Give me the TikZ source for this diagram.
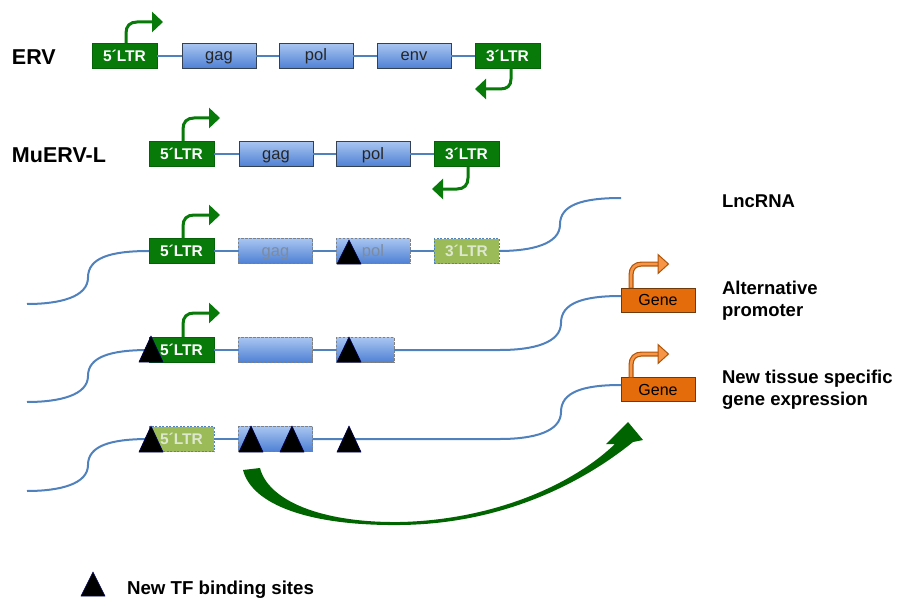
\documentclass[tikz,border=0pt]{standalone}
\usepackage{fontspec}
\setmainfont{Liberation Sans}
\usetikzlibrary{arrows.meta,calc}
\definecolor{ltrgreen}{RGB}{8,122,10}
\definecolor{ltrlight}{RGB}{155,187,89}
\definecolor{ltrtext}{RGB}{222,232,206}
\definecolor{bluetop}{RGB}{168,197,240}
\definecolor{bluebot}{RGB}{78,128,212}
\definecolor{boxedge}{RGB}{52,64,84}
\definecolor{dnablue}{RGB}{79,129,189}
\definecolor{genefill}{RGB}{228,108,10}
\definecolor{geneedge}{RGB}{110,58,12}
\definecolor{orlight}{RGB}{247,150,70}
\definecolor{ordark}{RGB}{175,85,10}
\definecolor{arrowgreen}{RGB}{0,100,0}
\definecolor{ghosttext}{RGB}{125,140,160}
\begin{document}
\begin{tikzpicture}[x=1pt,y=-1pt,
  every node/.style={inner sep=0pt,outer sep=0pt},
  ltr/.style={fill=ltrgreen,draw=ltrgreen!80!black,line width=0.6pt,minimum width=65pt,minimum height=25pt,text=white,text height=11pt,text depth=0pt,font=\fontsize{15.5}{18}\selectfont\bfseries},
  ltrghost/.style={fill=ltrlight,draw=dnablue,dash pattern=on 2pt off 1.5pt,line width=0.7pt,minimum width=65pt,minimum height=25pt,text=ltrtext,text height=11pt,text depth=0pt,font=\fontsize{15.5}{18}\selectfont\bfseries},
  orf/.style={top color=bluetop,bottom color=bluebot,draw=boxedge,line width=0.8pt,minimum width=74pt,minimum height=25pt,text height=10pt,text depth=0pt,font=\fontsize{16.5}{19}\selectfont,text=black!85},
  orfghost/.style={orf,draw=gray,dash pattern=on 2.5pt off 1.5pt,line width=1pt,text=ghosttext},
  gene/.style={fill=genefill,draw=geneedge,line width=0.8pt,minimum width=74pt,minimum height=24pt,text height=11pt,text depth=0pt,font=\fontsize{16}{19}\selectfont},
  dna/.style={draw=dnablue,line width=2pt},
  promo/.style={draw=ltrgreen,line width=3pt,-{Triangle[length=11pt,width=20pt]}},
  genearrowout/.style={draw=ordark,line width=5pt},
  genearrowin/.style={draw=orlight,line width=2.6pt},
  genehead/.style={fill=orlight,draw=ordark,line width=1pt,line join=miter},
  tf/.style={fill=black,draw=blue!35!black,line width=0.6pt,line join=round},
  lab/.style={anchor=west,font=\fontsize{21.5}{25}\selectfont\bfseries},
  rlab/.style={anchor=west,align=left,font=\fontsize{18.5}{22}\selectfont\bfseries},
]
\useasboundingbox (0,0) rectangle (898,602);
\fill[white] (0,0) rectangle (898,602);

% ---------- ERV ----------
\node[lab] (erv) at (12,57) {ERV};
\node[ltr] (e5) at (124.5,56) {5´LTR};
\node[orf] (egag) at (219,56) {gag};
\node[orf] (epol) at (316,56) {pol};
\node[orf] (eenv) at (414,56) {env};
\node[ltr] (e3) at (507.5,56) {3´LTR};
\draw[dna] (e5) -- (egag);
\draw[dna] (egag) -- (epol);
\draw[dna] (epol) -- (eenv);
\draw[dna] (eenv) -- (e3);
\draw[promo] (126,43.5) -- (126,33) .. controls (126,26) and (130,22) .. (137,22) -- (163,22);
\draw[promo] (511,68.5) -- (511,79) .. controls (511,86) and (507,89) .. (500,89) -- (475,89);

% ---------- MuERV-L ----------
\node[lab] (muerv) at (12,155) {MuERV-L};
\node[ltr] (m5) at (181.5,154) {5´LTR};
\node[orf] (mgag) at (276,154) {gag};
\node[orf] (mpol) at (373,154) {pol};
\node[ltr] (m3) at (466.5,154) {3´LTR};
\draw[dna] (m5) -- (mgag);
\draw[dna] (mgag) -- (mpol);
\draw[dna] (mpol) -- (m3);
\draw[promo] (183,141.5) -- (183,129) .. controls (183,122) and (187,118) .. (194,118) -- (220,118);
\draw[promo] (468,166.5) -- (468,178) .. controls (468,185) and (464,189) .. (457,189) -- (432,189);

% ---------- LncRNA row ----------
\node[ltr] (r5) at (181.5,251) {5´LTR};
\node[orfghost] (rgag) at (275.5,251) {gag};
\node[orfghost] (rpol) at (373,251) {pol};
\node[ltrghost] (r3) at (466.5,251) {3´LTR};
\coordinate (r3L) at (27,304);
\coordinate (r3R) at (621,198);
\draw[dna] (r3L) .. controls (60,304) and (88,297) .. (88,277.5) .. controls (88,258) and (110,251) .. (r5.west);
\draw[dna] (r5) -- (rgag);
\draw[dna] (rgag) -- (rpol);
\draw[dna] (rpol) -- (r3);
\draw[dna] (r3.east) .. controls (532,251) and (560,244) .. (560,224.5) .. controls (560,205) and (582,198) .. (r3R);
\draw[promo] (183,238.5) -- (183,226) .. controls (183,219) and (187,215) .. (194,215) -- (220,215);
\filldraw[tf] (337,264) -- (349,240) -- (361,264) -- cycle;
\node[rlab] (lnc) at (722,201) {LncRNA};

% ---------- Alternative promoter row ----------
\node[ltr] (s5) at (181.5,350) {5´LTR};
\node[orfghost] (sgag) at (275.5,350) {};
\node[orfghost,minimum width=58pt] (spol) at (365,350) {};
\node[gene] (g1) at (658,300) {Gene};
\coordinate (s4L) at (27,402);
\coordinate (s4M) at (500,350);
\draw[dna] (s4L) .. controls (60,402) and (88,395) .. (88,376) .. controls (88,357) and (110,350) .. (s5.west);
\draw[dna] (s5) -- (sgag);
\draw[dna] (sgag) -- (spol);
\draw[dna] (spol.east) -- (s4M) .. controls (533,350) and (561,343) .. (561,323) .. controls (561,303) and (583,296) .. ($(g1.west)+(0,-4)$);
\draw[promo] (183,337.5) -- (183,324) .. controls (183,317) and (187,313) .. (194,313) -- (220,313);
\draw[genearrowout] (631,288) -- (631,275) .. controls (631,268) and (635,264) .. (642,264) -- (659,264);
\draw[genearrowin] (631,287.5) -- (631,275) .. controls (631,268) and (635,264) .. (642,264) -- (659,264);
\filldraw[genehead] (658,254.5) -- (668.5,264) -- (658,273.5) -- cycle;
\filldraw[tf] (139,362) -- (151,336) -- (163,362) -- cycle;
\filldraw[tf] (337,362) -- (349,337) -- (361,362) -- cycle;
\node[rlab] (alt) at (722,301) {Alternative\\promoter};

% ---------- New tissue specific row ----------
\node[ltrghost] (t5) at (181.5,439) {5´LTR};
\node[orfghost] (tgag) at (275.5,439) {};
\node[gene] (g2) at (658,389.5) {Gene};
\coordinate (t5L) at (27,491);
\coordinate (t5M) at (500,439);
\draw[dna] (t5L) .. controls (60,491) and (88,484) .. (88,465) .. controls (88,446) and (110,439) .. (t5.west);
\draw[dna] (t5) -- (tgag);
\draw[dna] (tgag.east) -- (t5M) .. controls (533,439) and (561,432) .. (561,412) .. controls (561,392) and (583,385) .. ($(g2.west)+(0,-4.5)$);
\draw[genearrowout] (631,377.5) -- (631,365) .. controls (631,358) and (635,354) .. (642,354) -- (659,354);
\draw[genearrowin] (631,377) -- (631,365) .. controls (631,358) and (635,354) .. (642,354) -- (659,354);
\filldraw[genehead] (658,344.5) -- (668.5,354) -- (658,363.5) -- cycle;
\filldraw[tf] (139,452) -- (151,426) -- (163,452) -- cycle;
\filldraw[tf] (239,452) -- (251,426) -- (263,452) -- cycle;
\filldraw[tf] (280,452) -- (292,426) -- (304,452) -- cycle;
\filldraw[tf] (337,452) -- (349,426) -- (361,452) -- cycle;
\node[rlab] (nts) at (722,389.5) {New tissue specific\\gene expression};

% big curved arrow
\fill[arrowgreen] (243,470) .. controls (252,505) and (310,526) .. (400,525)
  .. controls (500,524) and (580,485) .. (633,442) -- (643,440) -- (628,422) -- (606,444) -- (615,444)
  .. controls (570,487) and (490,520) .. (400,522)
  .. controls (320,523) and (268,500) .. (260,468) -- cycle;

% ---------- legend ----------
\filldraw[tf] (81,596) -- (93,572) -- (105,596) -- cycle;
\node[anchor=west,font=\fontsize{18.7}{22}\selectfont\bfseries] (leg) at (127,590) {New TF binding sites};
\end{tikzpicture}
\end{document}
